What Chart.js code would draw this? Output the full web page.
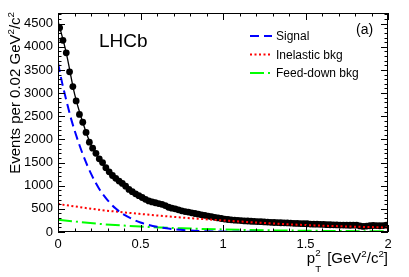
<!DOCTYPE html>
<html>
<head>
<meta charset="utf-8">
<script src="https://cdn.jsdelivr.net/npm/chart.js@4.4.1/dist/chart.umd.min.js"></script>
<style>
  html, body { margin: 0; padding: 0; background: #fff; }
</style>
</head>
<body>
<canvas id="c" width="409" height="277"></canvas>
<script>
/* LHCb pT^2 spectrum with fit components, ROOT look. */

const FONT = '"Liberation Sans", Arial, Helvetica, sans-serif';

// bin centres (GeV^2/c^2), 0.02 wide
const binCentres = [
  0.01, 0.03, 0.05, 0.07, 0.09, 0.11, 0.13, 0.15, 0.17, 0.19,
  0.21, 0.23, 0.25, 0.27, 0.29, 0.31, 0.33, 0.35, 0.37, 0.39,
  0.41, 0.43, 0.45, 0.47, 0.49, 0.51, 0.53, 0.55, 0.57, 0.59,
  0.61, 0.63, 0.65, 0.67, 0.69, 0.71, 0.73, 0.75, 0.77, 0.79,
  0.81, 0.83, 0.85, 0.87, 0.89, 0.91, 0.93, 0.95, 0.97, 0.99,
  1.01, 1.03, 1.05, 1.07, 1.09, 1.11, 1.13, 1.15, 1.17, 1.19,
  1.21, 1.23, 1.25, 1.27, 1.29, 1.31, 1.33, 1.35, 1.37, 1.39,
  1.41, 1.43, 1.45, 1.47, 1.49, 1.51, 1.53, 1.55, 1.57, 1.59,
  1.61, 1.63, 1.65, 1.67, 1.69, 1.71, 1.73, 1.75, 1.77, 1.79,
  1.81, 1.83, 1.85, 1.87, 1.89, 1.91, 1.93, 1.95, 1.97, 1.99
];
const events = [
  4410, 4140, 3870, 3460, 3140, 2830, 2540, 2370, 2150, 1940,
  1810, 1700, 1580, 1500, 1390, 1300, 1220, 1160, 1100, 1050,
  990, 920, 870, 825, 785, 745, 705, 672, 650, 632,
  615, 598, 570, 535, 515, 500, 480, 458, 442, 430,
  415, 400, 385, 370, 360, 345, 330, 318, 305, 292,
  280, 270, 262, 255, 252, 246, 240, 238, 232, 228,
  226, 222, 218, 215, 210, 205, 203, 200, 198, 195,
  193, 188, 186, 183, 180, 178, 172, 170, 168, 166,
  163, 158, 157, 155, 152, 150, 150, 147, 146, 148,
  150, 132, 120, 128, 135, 140, 138, 135, 138, 150
];

// fit curves
const totalX = [0, 0.05, 0.1, 0.15, 0.2, 0.25, 0.3, 0.35, 0.4, 0.45, 0.5, 0.6, 0.7, 0.8, 0.9, 1.0, 1.1, 1.2, 1.3, 1.4, 1.5, 1.6, 1.7, 1.8, 1.9, 2.0];
const totalY = [4560, 3870, 2990, 2370, 1880, 1580, 1345, 1160, 1020, 880, 760, 625, 515, 425, 355, 290, 250, 228, 208, 196, 181, 166, 152, 146, 138, 135];

const signalX = [0, 0.025, 0.05, 0.075, 0.1, 0.15, 0.2, 0.25, 0.3, 0.35, 0.4, 0.45, 0.5, 0.6, 0.7, 0.8, 0.9, 1.0, 1.2, 1.5, 2.0];
const signalY = [3650, 3220, 2850, 2500, 2200, 1680, 1260, 930, 690, 505, 375, 280, 205, 112, 60, 32, 17, 9, 3, 1, 0];

const inelX = [0, 0.25, 0.5, 0.75, 1.0, 1.25, 1.5, 1.75, 2.0];
const inelY = [605, 480, 390, 312, 250, 195, 150, 120, 97];

const feedX = [0, 0.25, 0.5, 0.75, 1.0, 1.25, 1.5, 1.75, 2.0];
const feedY = [265, 175, 118, 80, 55, 38, 27, 19, 13];

const xTicks = [0, 0.5, 1, 1.5, 2];
const yTicks = [0, 500, 1000, 1500, 2000, 2500, 3000, 3500, 4000, 4500];
const X_MAX = 2, Y_MAX = 4730;

const legendItems = [
  { label: "Signal", ds: 1 },
  { label: "Inelastic bkg", ds: 2 },
  { label: "Feed-down bkg", ds: 3 },
];

const pts = (xs, ys) => xs.map((x, i) => ({ x, y: ys[i] }));

// text with ROOT-like super/subscripts; parts = [[text, "sup"|"sub"|""], ...]
function richWidth(ctx, parts, size) {
  let w = 0;
  for (const [t, k] of parts) {
    ctx.font = `${k ? size * 0.65 : size}px ${FONT}`;
    w += ctx.measureText(t).width;
  }
  return w;
}
function drawRich(ctx, parts, x, y, size, align) {
  let cx = align === "right" ? x - richWidth(ctx, parts, size) : x;
  ctx.textAlign = "left";
  ctx.textBaseline = "alphabetic";
  for (const [t, k] of parts) {
    ctx.font = `${k ? size * 0.65 : size}px ${FONT}`;
    const dy = k === "sup" ? -size * 0.42 : k === "sub" ? size * 0.28 : 0;
    ctx.fillText(t, cx, y + dy);
    cx += ctx.measureText(t).width;
  }
}

const rootFrame = {
  id: "rootFrame",
  afterDraw(chart) {
    const { ctx, chartArea: a, scales: { x, y } } = chart;
    ctx.save();
    ctx.strokeStyle = "#000";
    ctx.lineWidth = 1;
    ctx.strokeRect(Math.round(a.left) + 0.5, Math.round(a.top) + 0.5,
      Math.round(a.right - a.left) - 1, Math.round(a.bottom - a.top) - 1);

    // x ticks, inside, bottom and top
    ctx.beginPath();
    for (let i = 0; i <= 20; i++) {
      const px = Math.round(x.getPixelForValue(i * 0.1)) + 0.5;
      const len = i % 5 === 0 ? 7 : 3.5;
      ctx.moveTo(px, a.bottom); ctx.lineTo(px, a.bottom - len);
      ctx.moveTo(px, a.top); ctx.lineTo(px, a.top + len);
    }
    // y ticks, inside, left and right
    for (let i = 0; i * 100 <= Y_MAX; i++) {
      const py = Math.round(y.getPixelForValue(i * 100)) + 0.5;
      const len = i % 5 === 0 ? 7 : 3.5;
      ctx.moveTo(a.left, py); ctx.lineTo(a.left + len, py);
      ctx.moveTo(a.right, py); ctx.lineTo(a.right - len, py);
    }
    ctx.stroke();

    ctx.fillStyle = "#000";
    // axis titles
    ctx.save();
    ctx.translate(20, 12);
    ctx.rotate(-Math.PI / 2);
    drawRich(ctx, [["Events per 0.02 GeV", ""], ["2", "sup"], ["/c", ""], ["2", "sup"]], 0, 0, 15, "right");
    ctx.restore();

    const bracket = [["[GeV", ""], ["2", "sup"], ["/c", ""], ["2", "sup"], ["]", ""]];
    const bw = richWidth(ctx, bracket, 15);
    drawRich(ctx, bracket, a.right, 263, 15, "right");
    const sx = a.right - bw - 12;
    ctx.font = `${15 * 0.65}px ${FONT}`;
    ctx.fillText("2", sx, 256);
    ctx.fillText("T", sx, 272);
    ctx.font = `15px ${FONT}`;
    ctx.textAlign = "right";
    ctx.fillText("p", sx, 263);

    // labels
    ctx.textAlign = "left";
    ctx.font = `19px ${FONT}`;
    ctx.fillText("LHCb", 99, 47);
    ctx.font = `14px ${FONT}`;
    ctx.fillText("(a)", 356, 34);

    // legend
    legendItems.forEach((it, i) => {
      const d = chart.data.datasets[it.ds];
      const ly = 36 + i * 18.5;
      ctx.beginPath();
      ctx.strokeStyle = d.borderColor;
      ctx.lineWidth = d.borderWidth;
      ctx.setLineDash(d.borderDash || []);
      ctx.moveTo(250, ly); ctx.lineTo(272, ly);
      ctx.stroke();
      ctx.setLineDash([]);
      ctx.font = `12px ${FONT}`;
      ctx.fillStyle = "#000";
      ctx.fillText(it.label, 276, ly + 4);
    });
    ctx.restore();
  }
};

new Chart(document.getElementById("c"), {
  type: "scatter",
  data: {
    datasets: [
      { type: "line", label: "Fit", data: pts(totalX, totalY), borderColor: "#000",
        borderWidth: 1.3, pointRadius: 0, cubicInterpolationMode: "monotone", order: 1 },
      { type: "line", label: "Signal", data: pts(signalX, signalY), borderColor: "#0000ff",
        borderWidth: 2, borderDash: [9, 5], pointRadius: 0, cubicInterpolationMode: "monotone", order: 0 },
      { type: "line", label: "Inelastic bkg", data: pts(inelX, inelY), borderColor: "#ff0000",
        borderWidth: 2, borderDash: [2, 2.5], pointRadius: 0, cubicInterpolationMode: "monotone", order: 0 },
      { type: "line", label: "Feed-down bkg", data: pts(feedX, feedY), borderColor: "#00ff00",
        borderWidth: 2, borderDash: [14, 4, 2, 4], pointRadius: 0, cubicInterpolationMode: "monotone", order: 0 },
      { label: "Data", data: pts(binCentres, events), backgroundColor: "#000",
        borderWidth: 0, pointRadius: 3.4, pointHoverRadius: 3.4, order: 2 },
    ],
  },
  options: {
    responsive: false,
    animation: false,
    devicePixelRatio: 1,
    layout: { padding: { top: 13, right: 21, left: 0, bottom: 0 } },
    plugins: { legend: { display: false }, tooltip: { enabled: false } },
    events: [],
    scales: {
      x: {
        type: "linear", min: 0, max: X_MAX,
        grid: { display: false, drawTicks: false }, border: { display: false },
        ticks: { color: "#000", font: { family: FONT, size: 13 }, padding: 5,
          autoSkip: false, maxRotation: 0, callback: (v) => String(v) },
        afterBuildTicks: (s) => { s.ticks = xTicks.map((v) => ({ value: v })); },
        afterFit: (s) => { s.height = 45; },
      },
      y: {
        type: "linear", min: 0, max: Y_MAX,
        grid: { display: false, drawTicks: false }, border: { display: false },
        ticks: { color: "#000", font: { family: FONT, size: 13 }, padding: 5,
          callback: (v) => String(v) },
        afterBuildTicks: (s) => { s.ticks = yTicks.map((v) => ({ value: v })); },
        afterFit: (s) => { s.width = 58; },
      },
    },
  },
  plugins: [rootFrame],
});
</script>
</body>
</html>
